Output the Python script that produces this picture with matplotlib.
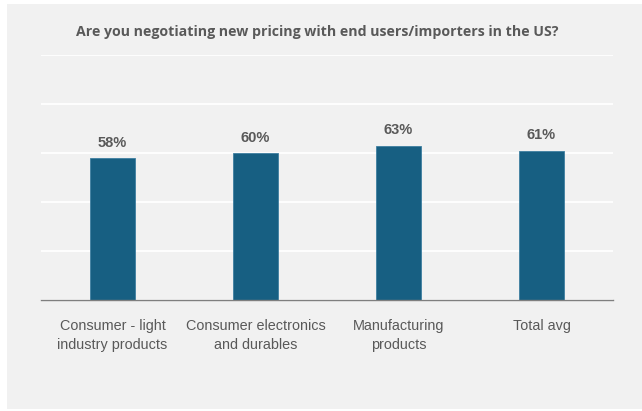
import matplotlib
matplotlib.use("Agg")
import matplotlib.pyplot as plt
from matplotlib.patches import Rectangle

categories = ["Consumer - light\nindustry products", "Consumer electronics\nand durables",
              "Manufacturing\nproducts", "Total avg"]
values = [58, 60, 63, 61]
labels = ["58%", "60%", "63%", "61%"]

title = "Are you negotiating new pricing with end users/importers in the US?"

W, H = 642, 411
fig = plt.figure(figsize=(W / 100, H / 100), dpi=100, facecolor="white")

# grey panel behind the chart
fig.patches.append(Rectangle((7 / W, 2 / H), 1 - 7 / W, 405 / H, transform=fig.transFigure,
                             facecolor="#f1f1f1", edgecolor="none", zorder=-1))

ax = fig.add_axes([41 / W, 111 / H, 572 / W, 245 / H])
ax.set_facecolor("none")

x = range(len(values))
ax.bar(x, values, width=0.315, color="#175f82", edgecolor="#3e7fa0", linewidth=0.6, zorder=3)

for i, (v, t) in enumerate(zip(values, labels)):
    ax.annotate(t, (i, v), xytext=(0, 6), textcoords="offset points", ha="center", va="bottom",
                fontsize=10.5, fontweight="bold", color="#595959", family="Liberation Sans")

ax.set_xlim(-0.5, 3.5)
ax.set_ylim(0, 100)
ax.set_yticks([0, 20, 40, 60, 80, 100])
ax.yaxis.grid(True, color="white", linewidth=1.3, zorder=0)
ax.tick_params(axis="y", left=False, labelleft=False)
ax.tick_params(axis="x", bottom=False, pad=10)
ax.set_xticks(list(x))
ax.set_xticklabels(categories, fontsize=10.4, color="#595959", family="Liberation Sans", linespacing=1.45)

for s in ["top", "left", "right"]:
    ax.spines[s].set_visible(False)
ax.spines["bottom"].set_color("#7f7f7f")
ax.spines["bottom"].set_linewidth(1.0)
ax.spines["bottom"].set_zorder(4)

fig.text(317 / W, 1 - 32 / H, title, ha="center", va="center", fontsize=10.2,
         fontweight="bold", color="#595959", family="Open Sans")

fig.savefig("out.png", dpi=100, facecolor="white")
